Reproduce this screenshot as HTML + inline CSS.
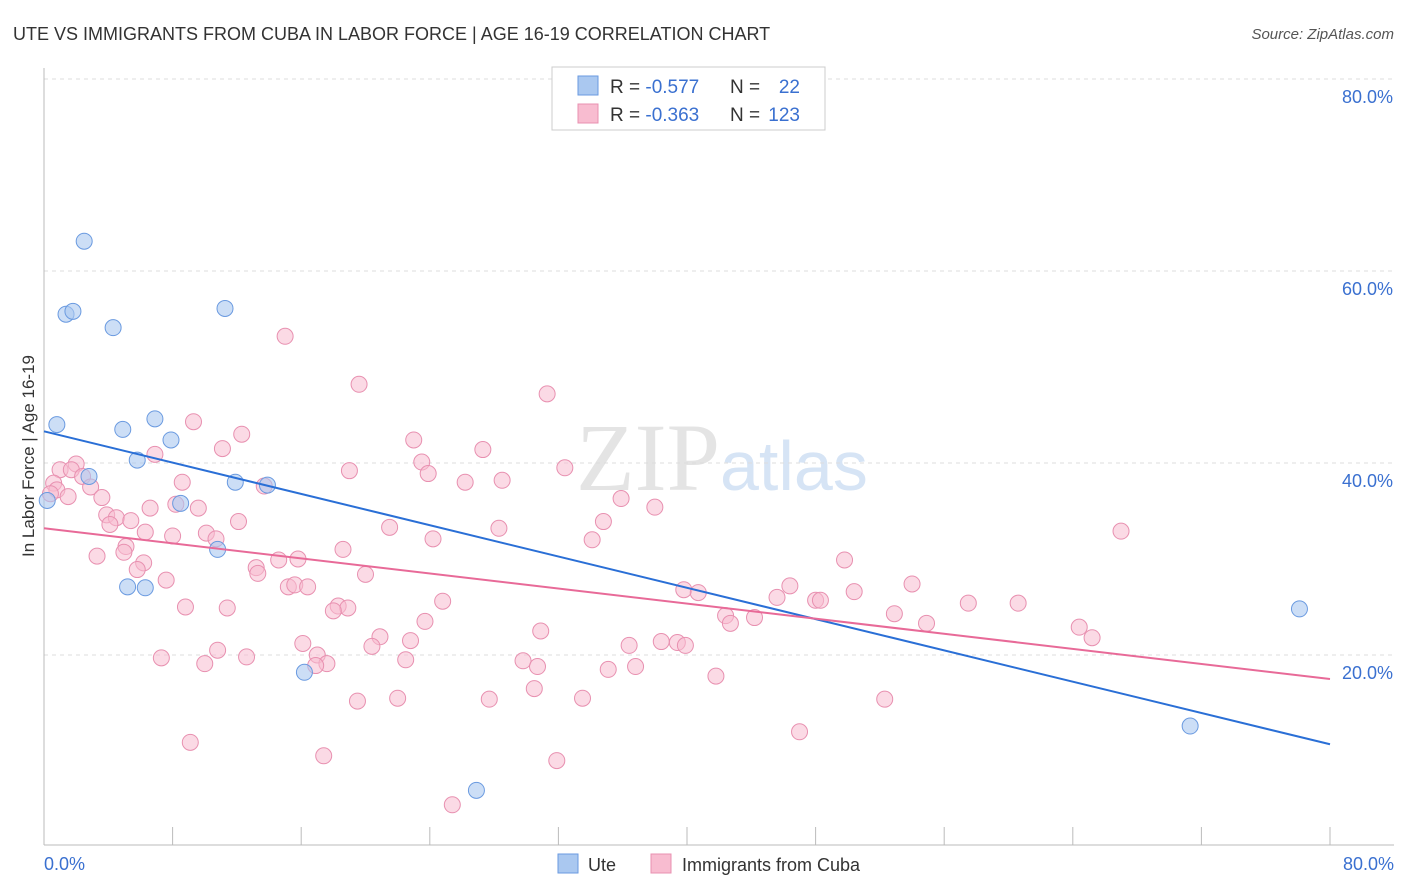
<!DOCTYPE html>
<html><head><meta charset="utf-8"><style>
body{margin:0;background:#fff;font-family:"Liberation Sans",sans-serif;}
</style></head><body>
<svg id="chart" width="1406" height="892" xmlns="http://www.w3.org/2000/svg" style="display:block">
<text x="13" y="40" font-size="18" fill="#333">UTE VS IMMIGRANTS FROM CUBA IN LABOR FORCE | AGE 16-19 CORRELATION CHART</text>
<text x="1394" y="39" font-size="15" fill="#555" text-anchor="end" font-style="italic">Source: ZipAtlas.com</text>
<text x="720" y="490" font-size="96" fill="#e4e4e4" text-anchor="end" font-family="Liberation Serif">ZIP</text>
<text x="720" y="490" font-size="70" fill="#d6e4f5">atlas</text>
<g id="grid"></g>
<g id="marks"></g>
<text transform="translate(34,456) rotate(-90)" font-size="17" fill="#333" text-anchor="middle">In Labor Force | Age 16-19</text>
<g>
<rect x="552" y="67" width="273" height="63" fill="#fff" stroke="#ccc"/>
<rect x="578" y="76" width="20" height="19" fill="#aac8f0" stroke="#6a9ae0"/>
<rect x="578" y="104" width="20" height="19" fill="#f8bcd0" stroke="#e890b0"/>
<text x="610" y="93" font-size="19" fill="#333">R = <tspan fill="#3a70d0">-0.577</tspan></text>
<text x="730" y="93" font-size="19" fill="#333">N =</text>
<text x="800" y="93" font-size="19" fill="#3a70d0" text-anchor="end">22</text>
<text x="610" y="121" font-size="19" fill="#333">R = <tspan fill="#3a70d0">-0.363</tspan></text>
<text x="730" y="121" font-size="19" fill="#333">N =</text>
<text x="800" y="121" font-size="19" fill="#3a70d0" text-anchor="end">123</text>
</g>
<g>
<rect x="558" y="854" width="20" height="19" fill="#aac8f0" stroke="#6a9ae0"/>
<text x="588" y="871" font-size="18" fill="#333">Ute</text>
<rect x="651" y="854" width="20" height="19" fill="#f8bcd0" stroke="#e890b0"/>
<text x="682" y="871" font-size="18" fill="#333">Immigrants from Cuba</text>
</g>
</svg>
<script>
const yTicks=[20,40,60,80];
const yTickLabels=["20.0%","40.0%","60.0%","80.0%"];
const xTicks=[0,8,16,24,32,40,48,56,64,72,80];
const uteX=[2.5,1.37,1.8,4.3,11.26,0.8,4.9,6.9,7.9,5.8,2.8,11.9,13.9,8.5,0.2,10.8,5.2,6.3,16.2,26.9,78.1,71.3];
const uteY=[63.1,55.5,55.8,54.1,56.1,44.0,43.5,44.6,42.4,40.3,38.6,38.0,37.7,35.8,36.1,31.0,27.1,27.0,18.2,5.9,24.8,12.6];
const cubaX=[15.0,19.6,31.3,9.3,12.3,23.0,11.1,27.3,6.9,23.5,2.0,1.0,1.7,19.0,32.4,23.9,2.4,26.2,28.5,8.6,0.6,13.7,2.9,0.8,0.4,1.5,3.6,35.9,8.2,38.0,6.6,9.6,3.9,4.5,5.4,12.1,34.8,4.1,21.5,28.3,67.0,6.3,10.1,8.0,24.2,34.1,10.7,5.1,18.6,4.97,3.3,14.6,15.8,49.8,6.2,13.2,5.8,13.3,20.0,7.6,54.0,15.2,15.6,16.4,46.4,39.8,40.7,50.4,45.6,48.0,48.3,24.8,57.5,60.6,8.8,11.4,18.3,18.9,18.0,52.9,42.4,44.2,42.7,54.9,23.7,64.4,30.9,65.2,20.9,16.1,22.8,38.4,39.4,39.9,36.4,20.4,10.8,17.0,7.3,12.6,22.5,29.8,10.0,17.6,16.9,30.7,35.1,36.8,41.8,30.5,33.5,22.0,19.5,27.7,52.3,47.0,9.1,17.4,31.9,25.4];
const cubaY=[53.2,48.2,47.2,44.3,43.0,42.4,41.5,41.4,40.9,40.1,39.9,39.3,39.3,39.2,39.5,38.9,38.6,38.0,38.2,38.0,37.9,37.6,37.5,37.2,36.8,36.5,36.4,36.3,35.7,35.4,35.3,35.3,34.6,34.3,34.0,33.9,33.9,33.6,33.3,33.2,32.9,32.8,32.7,32.4,32.1,32.0,32.1,31.3,31.0,30.7,30.3,29.9,30.0,29.9,29.6,29.1,28.9,28.5,28.4,27.8,27.4,27.1,27.3,27.1,27.2,26.8,26.5,26.6,26.0,25.7,25.7,25.6,25.4,25.4,25.0,24.9,25.1,24.9,24.6,24.3,24.1,23.9,23.3,23.3,23.5,22.9,22.5,21.8,21.9,21.2,21.5,21.4,21.3,21.0,21.0,20.9,20.5,20.0,19.7,19.8,19.5,19.4,19.1,19.1,18.9,18.8,18.5,18.8,17.8,16.5,15.5,15.5,15.2,15.4,15.4,12.0,10.9,9.5,9.0,4.4];
const uteTrend=[43.3,10.7];
const cubaTrend=[33.2,17.5];
const NS="http://www.w3.org/2000/svg";
const X=v=>44+v*(1286/80);
const Y=v=>847-v*9.6;
function mk(tag,attrs,parent){const e=document.createElementNS(NS,tag);for(const k in attrs)e.setAttribute(k,attrs[k]);parent.appendChild(e);return e;}
const grid=document.getElementById('grid'),marks=document.getElementById('marks');
yTicks.forEach((t,i)=>{
 const l=mk('line',{x1:44,x2:1394,y1:Y(t),y2:Y(t),stroke:'#ddd','stroke-dasharray':'4,4'},grid);
 
 
 const tx=mk('text',{x:1393,y:Y(t)+24,'font-size':18,fill:'#3a70d0','text-anchor':'end'},grid);
 tx.textContent=yTickLabels[i];
 
 
});
const ax=mk('line',{x1:44,x2:1394,y1:845,y2:845,stroke:'#bbb'},grid);


const ay=mk('line',{x1:44,x2:44,y1:68,y2:845,stroke:'#bbb'},grid);


xTicks.forEach(t=>{
 const l=mk('line',{x1:X(t),x2:X(t),y1:827,y2:845,stroke:'#bbb'},grid);
 
 
});
const xl0=mk('text',{x:44,y:870,'font-size':18,fill:'#3a70d0'},grid);xl0.textContent='0.0%';


const xl1=mk('text',{x:1394,y:870,'font-size':18,fill:'#3a70d0','text-anchor':'end'},grid);xl1.textContent='80.0%';


cubaX.forEach((v,i)=>{
 const c=mk('circle',{cx:X(v),cy:Y(cubaY[i]),r:8,fill:'#f8bcd0','fill-opacity':0.55,stroke:'#e890b0','stroke-width':1},marks);
 
 
});
uteX.forEach((v,i)=>{
 const c=mk('circle',{cx:X(v),cy:Y(uteY[i]),r:8,fill:'#aac8f0','fill-opacity':0.6,stroke:'#6a9ae0','stroke-width':1},marks);
 
 
});
const lu=mk('line',{x1:X(0),y1:Y(uteTrend[0]),x2:X(80),y2:Y(uteTrend[1]),stroke:'#2a6fd6','stroke-width':2},marks);


const lc=mk('line',{x1:X(0),y1:Y(cubaTrend[0]),x2:X(80),y2:Y(cubaTrend[1]),stroke:'#e86a98','stroke-width':2},marks);


</script>
</body></html>
